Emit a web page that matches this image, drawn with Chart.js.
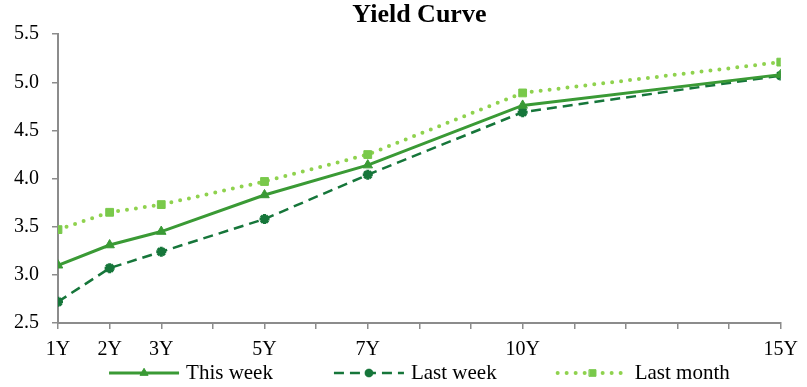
<!DOCTYPE html>
<html>
<head>
<meta charset="utf-8">
<script src="https://cdn.jsdelivr.net/npm/chart.js@4.4.1/dist/chart.umd.min.js"></script>
<style>
  html, body { margin: 0; padding: 0; background: #fff; }
  #wrap { width: 807px; height: 387px; }
</style>
</head>
<body>
<div id="wrap"><canvas id="c" width="807" height="387"></canvas></div>
<script>
// Maturity buckets (years) and their axis labels
const maturities = [1, 2, 3, 5, 7, 10, 15];
const tenorLabels = ['1Y', '2Y', '3Y', '5Y', '7Y', '10Y', '15Y'];

// Yields (%)
const thisWeek  = [3.10, 3.31, 3.45, 3.83, 4.14, 4.76, 5.08];
const lastWeek  = [2.72, 3.07, 3.24, 3.58, 4.04, 4.69, 5.07];
const lastMonth = [3.47, 3.65, 3.73, 3.97, 4.25, 4.89, 5.21];

const seriesNames = ['This week', 'Last week', 'Last month'];

const SERIF = "'Liberation Serif', 'Times New Roman', serif";
const AXIS_GREY = '#8c8c8c';

const toPoints = vals => maturities.map((m, i) => ({ x: m, y: vals[i] }));
const labelFor = {};
maturities.forEach((m, i) => { labelFor[m] = tenorLabels[i]; });

const datasets = [
  {
    label: seriesNames[0],
    data: toPoints(thisWeek),
    borderColor: '#3a9a35',
    backgroundColor: '#3a9a35',
    borderWidth: 3,
    pointStyle: 'triangle',
    pointRadius: 5.5,
    pointBackgroundColor: '#3a9a35',
    pointBorderColor: '#3a9a35',
    pointBorderWidth: 1,
    order: 1
  },
  {
    label: seriesNames[1],
    data: toPoints(lastWeek),
    borderColor: '#16763a',
    backgroundColor: '#16763a',
    borderWidth: 2.5,
    borderDash: [10, 6],
    pointStyle: 'star',
    pointRadius: 5,
    pointBackgroundColor: '#16763a',
    pointBorderColor: '#16763a',
    pointBorderWidth: 3,
    order: 2
  },
  {
    label: seriesNames[2],
    data: toPoints(lastMonth),
    borderColor: '#8fd24e',
    backgroundColor: '#8fd24e',
    borderWidth: 4,
    borderDash: [0, 9],
    borderCapStyle: 'round',
    pointStyle: 'rect',
    pointRadius: 5.5,
    pointBackgroundColor: '#79c94b',
    pointBorderColor: '#79c94b',
    pointBorderWidth: 1,
    order: 3
  }
];

// Legend drawn as line + marker samples under the x axis
const lineLegend = {
  id: 'lineLegend',
  afterDraw(chart) {
    const ctx = chart.ctx;
    const area = chart.chartArea;
    const y = 373;
    const sample = 70, gap = 7, itemGap = 61;
    ctx.save();
    ctx.font = '21px ' + SERIF;
    const widths = chart.data.datasets.map(d => ctx.measureText(d.label).width);
    const total = widths.reduce((a, w) => a + sample + gap + w, 0) + itemGap * (widths.length - 1);
    let x = (area.left + area.right) / 2 - total / 2;
    chart.data.datasets.forEach((d, i) => {
      ctx.save();
      ctx.strokeStyle = d.borderColor;
      ctx.lineWidth = d.borderWidth;
      ctx.lineCap = d.borderCapStyle || 'butt';
      ctx.setLineDash(d.borderDash || []);
      ctx.beginPath();
      ctx.moveTo(x, y);
      ctx.lineTo(x + sample, y);
      ctx.stroke();
      ctx.setLineDash([]);
      ctx.fillStyle = d.pointBackgroundColor;
      ctx.strokeStyle = d.pointBorderColor;
      ctx.lineWidth = d.pointBorderWidth;
      Chart.helpers.drawPoint(ctx, {
        pointStyle: d.pointStyle,
        radius: d.pointRadius * 0.85,
        rotation: 0,
        borderWidth: d.pointBorderWidth
      }, x + sample / 2, y);
      ctx.restore();
      ctx.fillStyle = '#000';
      ctx.textBaseline = 'middle';
      ctx.textAlign = 'left';
      ctx.fillText(d.label, x + sample + gap, y);
      x += sample + gap + widths[i] + itemGap;
    });
    ctx.restore();
  }
};

new Chart(document.getElementById('c'), {
  type: 'line',
  data: { datasets },
  plugins: [lineLegend],
  options: {
    responsive: false,
    devicePixelRatio: 1,
    animation: false,
    layout: { padding: { left: 0, right: 26, top: 0, bottom: 28 } },
    plugins: {
      legend: { display: false },
      tooltip: { enabled: false },
      title: {
        display: true,
        text: 'Yield Curve',
        fullSize: false,
        color: '#000',
        font: { family: SERIF, size: 26, weight: 'bold' },
        padding: { top: 0, bottom: 3 }
      }
    },
    scales: {
      x: {
        type: 'linear',
        min: 1,
        max: 15,
        afterFit: s => { s.height = 36; },
        afterBuildTicks: s => {
          s.ticks = [];
          for (let v = 1; v <= 15; v++) s.ticks.push({ value: v });
        },
        ticks: {
          stepSize: 1,
          autoSkip: false,
          maxRotation: 0,
          padding: 9,
          color: '#000',
          font: { family: SERIF, size: 20 },
          callback: v => labelFor[v] || ''
        },
        grid: {
          drawOnChartArea: false,
          drawTicks: true,
          tickLength: 6,
          color: AXIS_GREY,
          lineWidth: 1.5
        },
        border: { color: AXIS_GREY, width: 2 }
      },
      y: {
        min: 2.5,
        max: 5.5,
        afterFit: s => { s.width = 58; },
        ticks: {
          stepSize: 0.5,
          padding: 13,
          color: '#000',
          font: { family: SERIF, size: 20 },
          callback: v => Number(v).toFixed(1)
        },
        grid: {
          drawOnChartArea: false,
          drawTicks: true,
          tickLength: 6,
          color: AXIS_GREY,
          lineWidth: 1.5
        },
        border: { color: AXIS_GREY, width: 2 }
      }
    }
  }
});
</script>
</body>
</html>
